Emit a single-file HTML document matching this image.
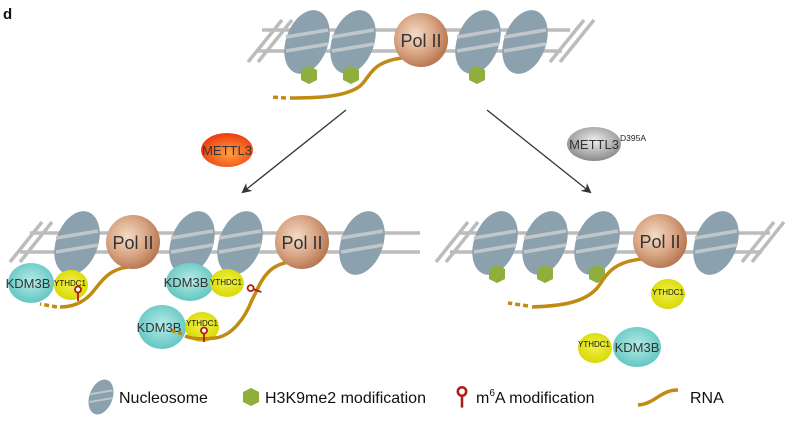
<!DOCTYPE html>
<html><head><meta charset="utf-8"><style>
html,body{margin:0;padding:0;background:#fff;}
svg{display:block;font-family:"Liberation Sans",sans-serif;}
</style></head><body>
<svg width="790" height="426" viewBox="0 0 790 426" xmlns="http://www.w3.org/2000/svg">
<defs>
<radialGradient id="pol" cx="0.4" cy="0.4" r="0.6"><stop offset="0" stop-color="#f3dcc6"/><stop offset="0.6" stop-color="#d9a585"/><stop offset="1" stop-color="#b97b55"/></radialGradient>
<radialGradient id="kdm" cx="0.5" cy="0.45" r="0.6"><stop offset="0" stop-color="#b5ece8"/><stop offset="1" stop-color="#5cc2bd"/></radialGradient>
<radialGradient id="yth" cx="0.5" cy="0.45" r="0.6"><stop offset="0" stop-color="#f2f24a"/><stop offset="1" stop-color="#d6d600"/></radialGradient>
<radialGradient id="red" cx="0.55" cy="0.6" r="0.6"><stop offset="0" stop-color="#ffa040"/><stop offset="1" stop-color="#ee3a10"/></radialGradient>
<radialGradient id="gray" cx="0.5" cy="0.4" r="0.6"><stop offset="0" stop-color="#eeeeee"/><stop offset="1" stop-color="#8a8a8a"/></radialGradient>
<g id="nuc"><ellipse cx="0" cy="0" rx="21" ry="33" fill="#8ba2ae" transform="rotate(20)"/>
<line x1="-21" y1="-5" x2="21" y2="-12" stroke="#c0c6c9" stroke-width="3.5"/><line x1="-21" y1="9" x2="21" y2="2" stroke="#c0c6c9" stroke-width="3.5"/></g>
<polygon id="hex" points="0,-9 8,-5 8,5 0,9 -8,5 -8,-5" fill="#8fae3c"/>
<g id="m6a"><line x1="0" y1="0" x2="0" y2="9" stroke="#b01c10" stroke-width="1.8"/><circle cx="0" cy="-2.5" r="3" fill="#fff" stroke="#b01c10" stroke-width="1.8"/></g>
<marker id="ar" markerWidth="10" markerHeight="10" refX="8" refY="5" orient="auto" markerUnits="userSpaceOnUse"><path d="M0,0 L10,5 L0,10 L3,5 z" fill="#333"/></marker>
</defs>
<text x="3" y="19" font-size="15" font-weight="bold" fill="#111">d</text>

<!-- top -->
<g stroke="#bcbcbc" stroke-width="3.5">
<line x1="262" y1="30" x2="570" y2="30"/><line x1="258" y1="51" x2="562" y2="51"/>
<line x1="248" y1="62" x2="282" y2="20"/><line x1="258" y1="62" x2="292" y2="20"/>
<line x1="550" y1="62" x2="584" y2="20"/><line x1="560" y1="62" x2="594" y2="20"/>
</g>
<use href="#nuc" x="307" y="42"/><use href="#nuc" x="353" y="42"/><use href="#nuc" x="478" y="42"/><use href="#nuc" x="525" y="42"/>
<use href="#hex" x="309" y="75"/><use href="#hex" x="351" y="75"/><use href="#hex" x="477" y="75"/>
<path d="M402,58 C370,62 370,78 360,86 C345,98 310,98 290,98" fill="none" stroke="#c08b14" stroke-width="3.5"/>
<path d="M286,98 L270,97" fill="none" stroke="#c08b14" stroke-width="3.5" stroke-dasharray="5,3"/>
<circle cx="421" cy="40" r="27" fill="url(#pol)"/>
<text x="421" y="47" font-size="18" text-anchor="middle" fill="#333">Pol II</text>

<!-- arrows -->
<line x1="346" y1="110" x2="243" y2="192" stroke="#333" stroke-width="1.3" marker-end="url(#ar)"/>
<line x1="487" y1="110" x2="590" y2="192" stroke="#333" stroke-width="1.3" marker-end="url(#ar)"/>
<ellipse cx="227" cy="150" rx="26" ry="17" fill="url(#red)"/>
<text x="227" y="155" font-size="13" text-anchor="middle" fill="#333">METTL3</text>
<ellipse cx="594" cy="144" rx="27" ry="17" fill="url(#gray)"/>
<text x="594" y="149" font-size="13" text-anchor="middle" fill="#333">METTL3</text>
<text x="620" y="141" font-size="8.5" fill="#222">D395A</text>

<!-- bottom left -->
<g stroke="#bcbcbc" stroke-width="3.5">
<line x1="30" y1="233" x2="420" y2="233"/><line x1="20" y1="252" x2="420" y2="252"/>
<line x1="10" y1="262" x2="42" y2="222"/><line x1="20" y1="262" x2="52" y2="222"/>
</g>
<use href="#nuc" x="77" y="243"/><use href="#nuc" x="192" y="243"/><use href="#nuc" x="240" y="243"/><use href="#nuc" x="362" y="243"/>
<ellipse cx="31" cy="283" rx="23" ry="20" fill="url(#kdm)"/>
<ellipse cx="71" cy="285" rx="17" ry="15" fill="url(#yth)"/>
<text x="28" y="288" font-size="13" text-anchor="middle" fill="#333">KDM3B</text>
<text x="70" y="286" font-size="8" text-anchor="middle" fill="#111">YTHDC1</text>
<ellipse cx="190" cy="282" rx="24" ry="19" fill="url(#kdm)"/>
<ellipse cx="227" cy="283" rx="17" ry="14" fill="url(#yth)"/>
<text x="186" y="287" font-size="13" text-anchor="middle" fill="#333">KDM3B</text>
<text x="226" y="285" font-size="8" text-anchor="middle" fill="#111">YTHDC1</text>
<ellipse cx="162" cy="327" rx="24" ry="22" fill="url(#kdm)"/>
<ellipse cx="202" cy="327" rx="17" ry="15" fill="url(#yth)"/>
<text x="159" y="332" font-size="13" text-anchor="middle" fill="#333">KDM3B</text>
<text x="202" y="326" font-size="8" text-anchor="middle" fill="#111">YTHDC1</text>
<path d="M128,267 C105,270 100,285 90,295 C82,303 72,307 60,307" fill="none" stroke="#c08b14" stroke-width="3.5"/>
<path d="M57,307 L40,304" fill="none" stroke="#c08b14" stroke-width="3.5" stroke-dasharray="5,3"/>
<path d="M290,262 C265,265 260,285 252,300 C245,318 232,336 215,338 C200,340 190,338 185,336" fill="none" stroke="#c08b14" stroke-width="3.5"/>
<path d="M182,334 L170,330" fill="none" stroke="#c08b14" stroke-width="3.5" stroke-dasharray="4,3"/>
<use href="#m6a" x="78" y="292"/>
<use href="#m6a" x="204" y="333"/>
<g transform="translate(253,289) rotate(-70)"><use href="#m6a"/></g>
<circle cx="133" cy="242" r="27" fill="url(#pol)"/>
<text x="133" y="249" font-size="18" text-anchor="middle" fill="#333">Pol II</text>
<circle cx="302" cy="242" r="27" fill="url(#pol)"/>
<text x="302" y="249" font-size="18" text-anchor="middle" fill="#333">Pol II</text>

<!-- bottom right -->
<g stroke="#bcbcbc" stroke-width="3.5">
<line x1="460" y1="233" x2="770" y2="233"/><line x1="450" y1="252" x2="762" y2="252"/>
<line x1="436" y1="262" x2="468" y2="222"/><line x1="446" y1="262" x2="478" y2="222"/>
<line x1="742" y1="262" x2="774" y2="222"/><line x1="752" y1="262" x2="784" y2="222"/>
</g>
<use href="#nuc" x="495" y="243"/><use href="#nuc" x="545" y="243"/><use href="#nuc" x="597" y="243"/><use href="#nuc" x="716" y="243"/>
<use href="#hex" x="497" y="274"/><use href="#hex" x="545" y="274"/><use href="#hex" x="597" y="274"/>
<path d="M642,259 C610,262 605,278 598,287 C585,303 560,306 532,307" fill="none" stroke="#c08b14" stroke-width="3.5"/>
<path d="M528,306 L508,303" fill="none" stroke="#c08b14" stroke-width="3.5" stroke-dasharray="5,3"/>
<circle cx="660" cy="241" r="27" fill="url(#pol)"/>
<text x="660" y="248" font-size="18" text-anchor="middle" fill="#333">Pol II</text>
<ellipse cx="668" cy="294" rx="17" ry="15" fill="url(#yth)"/>
<text x="668" y="295" font-size="8" text-anchor="middle" fill="#111">YTHDC1</text>
<ellipse cx="595" cy="348" rx="17" ry="15" fill="url(#yth)"/>
<ellipse cx="637" cy="347" rx="24" ry="20" fill="url(#kdm)"/>
<text x="594" y="347" font-size="8" text-anchor="middle" fill="#111">YTHDC1</text>
<text x="637" y="352" font-size="13" text-anchor="middle" fill="#333">KDM3B</text>

<!-- legend -->
<g transform="translate(101,397) scale(0.55)"><use href="#nuc"/></g>
<text x="119" y="403" font-size="16" fill="#111">Nucleosome</text>
<use href="#hex" x="251" y="397"/>
<text x="265" y="403" font-size="16" fill="#111">H3K9me2 modification</text>
<g transform="translate(462,395) scale(1.4)"><use href="#m6a"/></g>
<text x="476" y="403" font-size="16" fill="#111">m<tspan font-size="10" dy="-7">6</tspan><tspan dy="7">A modification</tspan></text>
<path d="M638,405 C655,404 660,390 678,390" fill="none" stroke="#c08b14" stroke-width="3.5"/>
<text x="690" y="403" font-size="16" fill="#111">RNA</text>
</svg>
</body></html>
